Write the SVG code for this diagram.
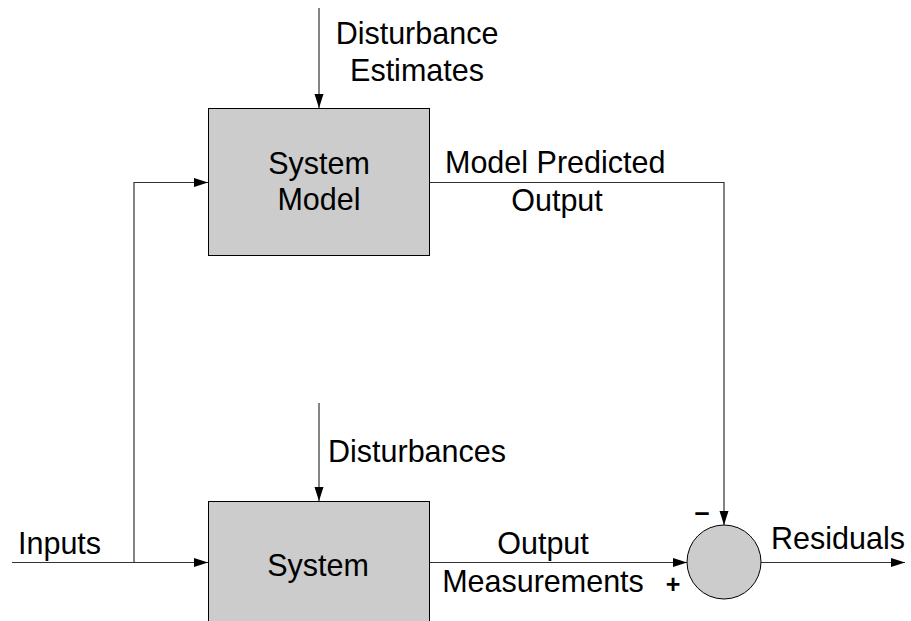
<svg xmlns="http://www.w3.org/2000/svg" width="911" height="621" viewBox="0 0 911 621">
<style>
.box{fill:#cccccc;stroke:#000;stroke-width:1}
.ln{fill:none;stroke:#333;stroke-width:1.2}
.t{font-family:"Liberation Sans",Arial,sans-serif;font-size:30.5px;fill:#000}
.m{text-anchor:middle}
.s{font-family:"Liberation Sans",Arial,sans-serif;font-weight:bold;fill:#000;text-anchor:middle}
</style>
<defs>
<marker id="ah" markerWidth="14" markerHeight="10" refX="14" refY="5" orient="auto" markerUnits="userSpaceOnUse">
<path d="M0,0.5 L14,5 L0,9.5 Z" fill="#000"/>
</marker>
</defs>
<rect width="911" height="621" fill="#fff"/>
<g id="connectors">
<line class="ln" x1="319" y1="8" x2="319" y2="108" marker-end="url(#ah)"/>
<line class="ln" x1="319" y1="403" x2="319" y2="501" marker-end="url(#ah)"/>
<line class="ln" x1="12" y1="562.5" x2="208" y2="562.5" marker-end="url(#ah)"/>
<polyline class="ln" points="134,562.5 134,182.5 208,182.5" marker-end="url(#ah)"/>
<polyline class="ln" points="429,182.5 724,182.5 724,525" marker-end="url(#ah)"/>
<line class="ln" x1="429" y1="562.5" x2="687" y2="562.5" marker-end="url(#ah)"/>
<line class="ln" x1="761" y1="562.5" x2="905" y2="562.5" marker-end="url(#ah)"/>
</g>
<g id="system-model">
<rect class="box" x="208.5" y="108.5" width="221" height="147"/>
<text class="t m" x="319" y="174">System</text>
<text class="t m" x="319" y="210">Model</text>
</g>
<g id="system">
<rect class="box" x="208.5" y="501.5" width="221" height="130"/>
<text class="t m" x="318" y="576">System</text>
</g>
<g id="sum">
<circle cx="724" cy="562" r="37" fill="#cccccc" stroke="#000" stroke-width="1"/>
<text class="s" x="702" y="521" font-size="27">–</text>
<text class="s" x="673" y="593" font-size="25">+</text>
</g>
<g id="labels">
<text class="t m" x="417" y="44">Disturbance</text>
<text class="t m" x="417" y="81">Estimates</text>
<text class="t" x="445" y="173">Model Predicted</text>
<text class="t m" x="557" y="211">Output</text>
<text class="t" x="328" y="462">Disturbances</text>
<text class="t" x="18" y="554">Inputs</text>
<text class="t m" x="543" y="554">Output</text>
<text class="t m" x="543" y="592">Measurements</text>
<text class="t" x="771" y="549">Residuals</text>
</g>
</svg>
